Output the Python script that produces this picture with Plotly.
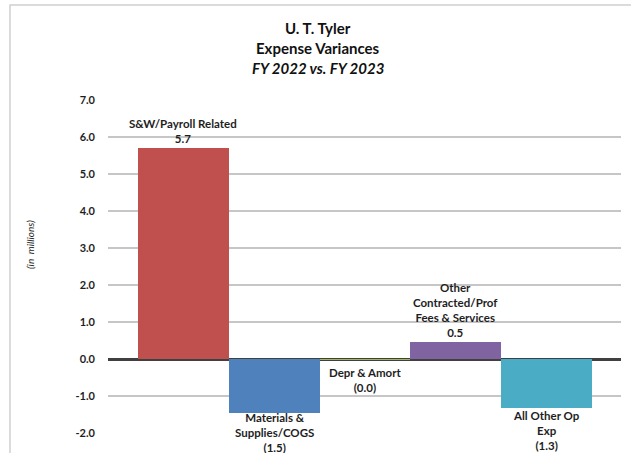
import plotly.graph_objects as go

categories = ["S&W/Payroll Related", "Materials &<br>Supplies/COGS", "Depr & Amort",
              "Other<br>Contracted/Prof<br>Fees & Services", "All Other Op<br>Exp"]
values = [5.7, -1.45, -0.02, 0.47, -1.32]
value_labels = ["5.7", "(1.5)", "(0.0)", "0.5", "(1.3)"]
tick_values = [-2, -1, 0, 1, 2, 3, 4, 5, 6, 7]
tick_labels = ["-2.0", "-1.0", "0.0", "1.0", "2.0", "3.0", "4.0", "5.0", "6.0", "7.0"]
colors = ["#C0504D", "#4F81BD", "#9BBB59", "#8064A2", "#4BACC6"]

W, H = 631, 453
L, R, T, B = 108, 10, 100, 20
PW, PH = W - L - R, H - T - B
FONT = "Lato"
TXT = "#1E1E1E"

fig = go.Figure(go.Bar(
    x=list(range(len(values))), y=values,
    marker=dict(color=colors, line=dict(width=0)),
    hoverinfo="skip", cliponaxis=False,
))

# label nudges (pixels) to mimic Excel label placement
nudge = [1, 4, 0, 1, 1]
annotations = []
for i, (c, v, lab) in enumerate(zip(categories, values, value_labels)):
    if v >= 0:
        annotations.append(dict(x=i, y=v, xref="x", yref="y", text=f"<b>{c}<br>{lab}</b>",
                                showarrow=False, xanchor="center", yanchor="bottom",
                                yshift=nudge[i], font=dict(family=FONT, size=11.5, color=TXT)))
    else:
        y_anchor_val = min(v, 0)
        annotations.append(dict(x=i, y=y_anchor_val, xref="x", yref="y", text=f"<b>{c}<br>{lab}</b>",
                                showarrow=False, xanchor="center", yanchor="top",
                                yshift=nudge[i] - (0 if v < -0.1 else 0),
                                font=dict(family=FONT, size=11.5, color=TXT)))
# Depr label sits a bit lower below the axis line
annotations[2]["yshift"] = -4

for text, ypx in [("<b>U. T. Tyler</b>", 28), ("<b>Expense Variances</b>", 48),
                  ("<b><i>FY 2022 vs. FY 2023</i></b>", 68)]:
    annotations.append(dict(text=text, xref="paper", yref="paper",
                            x=(318 - L) / PW, y=((H - ypx) - B) / PH,
                            showarrow=False, xanchor="center", yanchor="middle",
                            font=dict(family=FONT, size=15, color="#111111")))

annotations.append(dict(text="<i>(in  millions)</i>", xref="paper", yref="paper",
                        x=(30 - L) / PW, y=((H - 245) - B) / PH,
                        showarrow=False, textangle=-90, xanchor="center", yanchor="middle",
                        font=dict(family=FONT, size=10, color=TXT)))

fig.update_layout(
    width=W, height=H,
    margin=dict(l=L, r=R, t=T, b=B),
    paper_bgcolor="white", plot_bgcolor="white",
    bargap=0, showlegend=False,
    xaxis=dict(range=[-0.5 - 30 / 91, 4.5 + 29 / 91], showticklabels=False, showgrid=False,
               zeroline=False, showline=False, ticks=""),
    yaxis=dict(range=[-2, 7], tickvals=tick_values, ticktext=tick_labels,
               showgrid=True, gridcolor="#C6C6C6",
               gridwidth=1.5, zeroline=True, zerolinecolor="#404040", zerolinewidth=2.5,
               showline=False, ticks="", ticklabelstandoff=12,
               tickfont=dict(family=FONT, size=11, color=TXT, weight="bold")),
    shapes=[dict(type="rect", xref="paper", yref="paper",
                 x0=(10 - L) / PW, x1=(W + 20 - L) / PW,
                 y0=-(B + 20) / PH, y1=((H - 5) - B) / PH,
                 line=dict(color="#D0D0D0", width=1.5), fillcolor="rgba(0,0,0,0)", layer="below")],
    annotations=annotations,
)

fig.write_html("out.html")
